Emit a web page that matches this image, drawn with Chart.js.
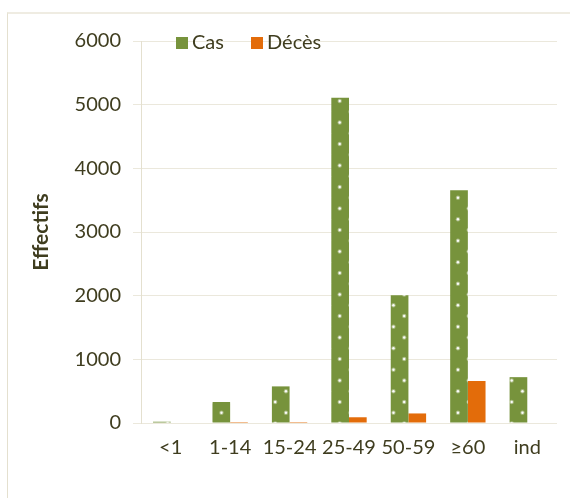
<!DOCTYPE html>
<html>
<head>
<meta charset="utf-8">
<script src="https://cdn.jsdelivr.net/npm/chart.js@4.4.1/dist/chart.umd.min.js"></script>
<style>
  html, body { margin: 0; padding: 0; background: #ffffff; overflow: hidden; }
  #wrap { position: absolute; left: 0; top: 0; width: 570px; height: 498px; }
  #frame { position: absolute; left: 7px; top: 12px; width: 580px; height: 500px;
           border-left: 1px solid #e4e0cf; border-top: 2px solid #efece2; }
  canvas { position: absolute; left: 0; top: 0; }
</style>
</head>
<body>
<div id="wrap">
  <div id="frame"></div>
  <canvas id="c" width="570" height="498"></canvas>
</div>
<script>
// ---- data ----
const categories = ['<1', '1-14', '15-24', '25-49', '50-59', '\u226560', 'ind'];
const casValues = [20, 330, 575, 5110, 2005, 3655, 720];
const decesValues = [0, 15, 15, 90, 150, 660, 0];
const seriesLabels = ['Cas', 'D\u00e9c\u00e8s'];
const yTicks = [0, 1000, 2000, 3000, 4000, 5000, 6000];
const yTitle = 'Effectifs';

const GREEN = '#77933c';
const ORANGE = '#e36c0a';
const TEXT = '#3f3d1f';
const FONT = 'Lato, "Open Sans", sans-serif';

// dotted pattern for green bars
function makeDotPattern() {
  const t = document.createElement('canvas');
  t.width = 43; t.height = 43;
  const g = t.getContext('2d');
  g.fillStyle = GREEN;
  g.fillRect(0, 0, 43, 43);
  const pts = [[17.2,15],[38.7,15],[17.2,36.5],[38.7,36.5],
               [27.95,25.75],[6.45,25.75],[27.95,4.25],[6.45,4.25]];
  for (const [x, y] of pts) {
    g.fillStyle = 'rgba(255,255,255,0.35)';
    g.beginPath(); g.arc(x, y, 2.2, 0, Math.PI * 2); g.fill();
    g.fillStyle = 'rgba(255,255,255,0.95)';
    g.beginPath(); g.arc(x, y, 1.2, 0, Math.PI * 2); g.fill();
  }
  return document.getElementById('c').getContext('2d').createPattern(t, 'repeat');
}

const customLegend = {
  id: 'customLegend',
  afterDraw(chart) {
    const ctx = chart.ctx;
    ctx.save();
    ctx.font = '20px ' + FONT;
    ctx.textBaseline = 'middle';
    ctx.textAlign = 'left';
    const items = [
      { x: 176, color: GREEN, text: chart.data.datasets[0].label },
      { x: 251, color: ORANGE, text: chart.data.datasets[1].label }
    ];
    for (const it of items) {
      ctx.fillStyle = it.color;
      ctx.fillRect(it.x, 37, 12, 12);
      ctx.fillStyle = TEXT;
      ctx.fillText(it.text, it.x + 16, 43);
    }
    ctx.restore();
  }
};

const ctx = document.getElementById('c').getContext('2d');
new Chart(ctx, {
  type: 'bar',
  data: {
    labels: categories,
    datasets: [
      { label: seriesLabels[0], data: casValues, backgroundColor: makeDotPattern(),
        categoryPercentage: 0.595, barPercentage: 1.0 },
      { label: seriesLabels[1], data: decesValues, backgroundColor: ORANGE,
        categoryPercentage: 0.595, barPercentage: 1.0 }
    ]
  },
  options: {
    responsive: false,
    animation: false,
    devicePixelRatio: 1,
    layout: { padding: { left: 0, top: 41, right: 13, bottom: 0 } },
    plugins: { legend: { display: false }, tooltip: { enabled: false } },
    scales: {
      x: {
        grid: { display: false, drawTicks: false },
        border: { display: false },
        ticks: { color: TEXT, font: { family: FONT, size: 20 }, padding: 13, maxRotation: 0 },
        afterFit(s) { s.height = 75; }
      },
      y: {
        min: 0, max: 6000,
        afterBuildTicks(s) { s.ticks = yTicks.map(v => ({ value: v })); },
        grid: { color: '#ebe8dc', lineWidth: 1, tickLength: 8, drawTicks: true },
        border: { display: true, color: '#e4e0cf', width: 1 },
        ticks: { color: TEXT, font: { family: FONT, size: 20 }, padding: 12,
                 callback: (v) => String(v) },
        title: { display: true, text: yTitle, color: TEXT,
                 font: { family: FONT, size: 21, weight: 'bold' }, padding: { top: 29, bottom: 0 } },
        afterFit(s) { s.width = 141; }
      }
    }
  },
  plugins: [customLegend]
});
</script>
</body>
</html>
